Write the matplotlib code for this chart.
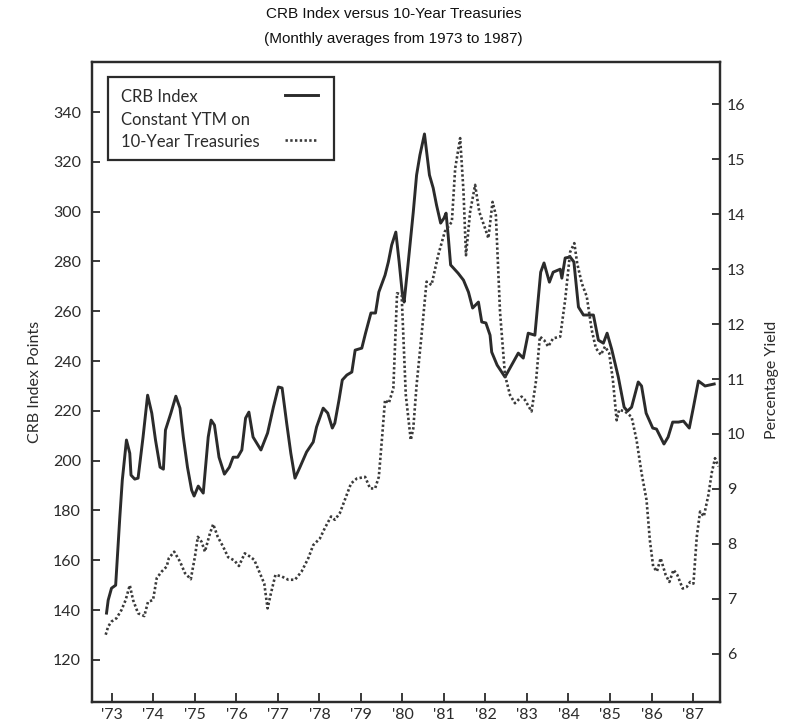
import matplotlib
matplotlib.use("Agg")
import matplotlib.pyplot as plt
from matplotlib.patches import Rectangle

# ---------------- data ----------------
years = [1973, 1974, 1975, 1976, 1977, 1978, 1979, 1980,
         1981, 1982, 1983, 1984, 1985, 1986, 1987]
year_labels = ["'73", "'74", "'75", "'76", "'77", "'78", "'79", "'80",
               "'81", "'82", "'83", "'84", "'85", "'86", "'87"]
crb_ticks = [120, 140, 160, 180, 200, 220, 240, 260, 280, 300, 320, 340]
yield_ticks = [6, 7, 8, 9, 10, 11, 12, 13, 14, 15, 16]

crb_x = [1972.87, 1972.91, 1972.99, 1973.09, 1973.19, 1973.25, 1973.35, 1973.43,
         1973.46, 1973.55, 1973.63, 1973.75, 1973.86, 1973.96, 1974.05, 1974.16,
         1974.24, 1974.29, 1974.42, 1974.54, 1974.64, 1974.72, 1974.82, 1974.92,
         1974.98, 1975.08, 1975.20, 1975.32, 1975.39, 1975.47, 1975.58, 1975.71,
         1975.83, 1975.92, 1976.03, 1976.13, 1976.22, 1976.30, 1976.40, 1976.59,
         1976.75, 1976.89, 1977.01, 1977.10, 1977.21, 1977.31, 1977.41, 1977.53,
         1977.69, 1977.85, 1977.93, 1978.09, 1978.20, 1978.31, 1978.37, 1978.47,
         1978.55, 1978.66, 1978.78, 1978.86, 1979.02, 1979.11, 1979.24, 1979.35,
         1979.43, 1979.58, 1979.66, 1979.74, 1979.84, 1979.92, 1980.00, 1980.04,
         1980.14, 1980.26, 1980.34, 1980.42, 1980.53, 1980.65, 1980.74, 1980.82,
         1980.92, 1981.00, 1981.05, 1981.10, 1981.16, 1981.34, 1981.47, 1981.59,
         1981.69, 1981.83, 1981.91, 1982.01, 1982.11, 1982.15, 1982.28, 1982.47,
         1982.63, 1982.79, 1982.91, 1983.03, 1983.19, 1983.33, 1983.41, 1983.54,
         1983.63, 1983.80, 1983.84, 1983.92, 1984.04, 1984.13, 1984.24, 1984.36,
         1984.60, 1984.72, 1984.84, 1984.93, 1985.04, 1985.20, 1985.34, 1985.42,
         1985.52, 1985.68, 1985.76, 1985.87, 1986.03, 1986.12, 1986.30, 1986.40,
         1986.51, 1986.65, 1986.77, 1986.91, 1987.01, 1987.13, 1987.29, 1987.51]
crb = [138.8, 144.0, 148.8, 150.0, 177.3, 192.2, 208.3, 203.0,
       194.2, 192.6, 193.0, 209.5, 226.3, 219.1, 208.3, 197.4,
       196.6, 212.3, 219.1, 225.9, 221.1, 209.5, 197.4, 188.2,
       185.8, 189.8, 187.0, 209.5, 216.3, 214.3, 201.4, 194.6,
       197.4, 201.4, 201.4, 204.3, 217.1, 219.5, 209.5, 204.3,
       211.1, 221.5, 229.6, 229.2, 215.1, 203.0, 193.0, 197.4,
       203.5, 207.5, 213.5, 221.1, 219.1, 213.1, 215.1, 224.3,
       232.4, 234.4, 235.6, 244.4, 245.2, 251.2, 259.3, 259.3,
       267.7, 274.5, 279.8, 286.6, 291.8, 279.8, 266.5, 263.7,
       279.8, 299.8, 314.7, 322.7, 331.2, 314.7, 309.5, 302.7,
       295.4, 297.4, 299.4, 290.6, 278.6, 275.3, 272.5, 267.7,
       261.3, 263.7, 255.7, 255.3, 250.4, 243.6, 238.4, 233.6,
       238.4, 243.2, 241.2, 251.2, 250.4, 275.7, 279.4, 271.7,
       275.7, 276.9, 273.3, 281.4, 281.8, 279.8, 261.7, 258.5,
       258.5, 248.4, 247.2, 251.2, 244.8, 233.6, 221.5, 219.9,
       221.5, 231.6, 230.0, 219.1, 213.1, 212.7, 206.7, 209.5,
       215.5, 215.5, 215.9, 213.1, 221.5, 232.0, 230.0, 230.8]

yield_x = [1972.85, 1972.91, 1972.99, 1973.11, 1973.23, 1973.33, 1973.43, 1973.51,
           1973.63, 1973.78, 1973.87, 1973.99, 1974.08, 1974.20, 1974.32, 1974.37,
           1974.50, 1974.64, 1974.76, 1974.90, 1975.00, 1975.07, 1975.16, 1975.24,
           1975.36, 1975.44, 1975.55, 1975.68, 1975.80, 1975.95, 1976.06, 1976.20,
           1976.33, 1976.43, 1976.53, 1976.67, 1976.75, 1976.83, 1976.94, 1977.09,
           1977.25, 1977.41, 1977.57, 1977.73, 1977.85, 1978.01, 1978.13, 1978.28,
           1978.37, 1978.49, 1978.61, 1978.76, 1978.90, 1979.10, 1979.22, 1979.34,
           1979.43, 1979.51, 1979.58, 1979.67, 1979.78, 1979.87, 1979.98, 1980.08,
           1980.20, 1980.26, 1980.34, 1980.46, 1980.58, 1980.70, 1980.86, 1981.02,
           1981.19, 1981.27, 1981.39, 1981.47, 1981.53, 1981.63, 1981.75, 1981.85,
           1981.99, 1982.07, 1982.17, 1982.25, 1982.35, 1982.47, 1982.59, 1982.71,
           1982.87, 1982.95, 1983.11, 1983.22, 1983.31, 1983.41, 1983.51, 1983.63,
           1983.80, 1983.92, 1984.04, 1984.14, 1984.21, 1984.32, 1984.44, 1984.56,
           1984.66, 1984.78, 1984.88, 1984.98, 1985.07, 1985.16, 1985.22, 1985.36,
           1985.52, 1985.64, 1985.76, 1985.88, 1985.96, 1986.04, 1986.13, 1986.22,
           1986.34, 1986.43, 1986.53, 1986.62, 1986.75, 1986.85, 1986.93, 1987.01,
           1987.09, 1987.17, 1987.26, 1987.37, 1987.45, 1987.53, 1987.61]
yield_pct = [6.35, 6.50, 6.59, 6.65, 6.80, 6.98, 7.25, 6.98,
             6.74, 6.69, 6.95, 6.98, 7.38, 7.50, 7.59, 7.74,
             7.86, 7.68, 7.47, 7.36, 7.77, 8.13, 8.04, 7.86,
             8.19, 8.36, 8.13, 7.95, 7.76, 7.70, 7.60, 7.83,
             7.77, 7.71, 7.53, 7.28, 6.83, 7.10, 7.44, 7.41,
             7.35, 7.35, 7.50, 7.74, 7.98, 8.10, 8.29, 8.50,
             8.44, 8.56, 8.80, 9.10, 9.19, 9.22, 9.01, 9.01,
             9.22, 9.95, 10.62, 10.56, 10.83, 12.56, 12.53, 10.71,
             9.89, 10.10, 10.89, 11.80, 12.77, 12.71, 13.25, 13.68,
             13.86, 14.83, 15.38, 14.41, 13.25, 14.04, 14.53, 14.04,
             13.74, 13.56, 14.22, 13.98, 12.22, 11.07, 10.71, 10.56,
             10.68, 10.62, 10.41, 10.98, 11.77, 11.71, 11.59, 11.74,
             11.77, 12.44, 13.31, 13.47, 13.10, 12.74, 12.50, 11.89,
             11.56, 11.44, 11.59, 11.47, 10.98, 10.25, 10.44, 10.41,
             10.31, 9.89, 9.29, 8.80, 8.07, 7.59, 7.50, 7.74,
             7.44, 7.31, 7.53, 7.44, 7.19, 7.22, 7.31, 7.28,
             8.13, 8.59, 8.50, 8.89, 9.29, 9.56, 9.41]

title_lines = ["CRB Index versus 10-Year Treasuries",
               "(Monthly averages from 1973 to 1987)"]
legend_lines = ["CRB Index", "Constant YTM on", "10-Year Treasuries"]

# ---------------- figure ----------------
W, H = 787, 725
fig = plt.figure(figsize=(W / 100, H / 100), dpi=100)
fig.patch.set_facecolor("white")

ink = "#2b2b2b"
tick_font = "Lato"

ax = fig.add_axes([92 / W, 1 - 702 / H, 628 / W, 640 / H])
ax2 = ax.twinx()

ax.plot(crb_x, crb, color=ink, lw=2.1, solid_joinstyle="round", zorder=3)
ax2.plot(yield_x, yield_pct, color="#3a3a3a", lw=1.9, linestyle=(0, (0.9, 0.9)), zorder=2)

ax.set_xlim(1972.52, 1987.65)
ax.set_ylim(103.1, 360.1)
ax2.set_ylim(5.127, 16.764)

ax.set_xticks(years)
ax.set_xticklabels(year_labels, fontsize=11.5, family=tick_font, color=ink)
ax.set_yticks(crb_ticks)
ax.set_yticklabels([str(v) for v in crb_ticks], fontsize=11.5, family=tick_font, color=ink)
ax2.set_yticks(yield_ticks)
ax2.set_yticklabels([str(v) for v in yield_ticks], fontsize=11.5, family=tick_font, color=ink)

ax.tick_params(axis="x", direction="in", length=6.5, width=1.3, pad=4, color=ink)
ax.tick_params(axis="y", direction="in", length=6, width=1.3, pad=8, color=ink)
ax2.tick_params(axis="y", direction="in", length=6, width=1.3, pad=5, color=ink)

for a in (ax, ax2):
    for s in a.spines.values():
        s.set_linewidth(1.6)
        s.set_color(ink)

# axis labels
fig.text(35 / W, 1 - 382 / H, "CRB Index Points", rotation=90, ha="center", va="center",
         fontsize=11.5, family=tick_font, color=ink)
fig.text(772 / W, 1 - 380 / H, "Percentage Yield", rotation=90, ha="center", va="center",
         fontsize=11.5, family=tick_font, color=ink)

# title
fig.text(0.5, 1 - 14 / H, title_lines[0], ha="center", va="center",
         fontsize=11, family="Liberation Sans", color="#111111")
fig.text(0.5, 1 - 39 / H, title_lines[1], ha="center", va="center",
         fontsize=11, family="Liberation Sans", color="#111111")

# legend box (hand-built to keep left-aligned text and right-aligned samples)
ax.add_patch(Rectangle((0.0255, 0.847), 0.3595, 0.130, transform=ax.transAxes,
                       fill=True, facecolor="white", edgecolor=ink, lw=1.6, zorder=5))
for txt, yy in zip(legend_lines, [0.945, 0.909, 0.875]):
    ax.text(0.0462, yy, txt, transform=ax.transAxes, ha="left", va="center",
            fontsize=12, family=tick_font, color=ink, zorder=6)
ax.plot([0.307, 0.360], [0.948, 0.948], transform=ax.transAxes, color=ink, lw=2.1, zorder=6)
ax.plot([0.307, 0.360], [0.878, 0.878], transform=ax.transAxes, color="#3a3a3a", lw=1.9,
        linestyle=(0, (0.9, 0.9)), zorder=6)

fig.savefig("out.png", dpi=100, facecolor="white")
